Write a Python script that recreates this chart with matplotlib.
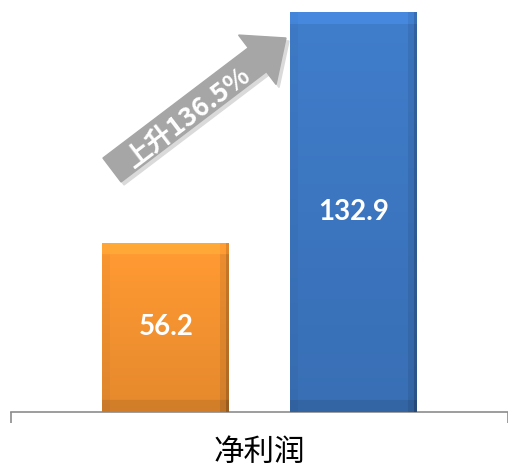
import numpy as np
import matplotlib
matplotlib.use('Agg')
import matplotlib.pyplot as plt
from matplotlib.patches import FancyArrow
from matplotlib.transforms import IdentityTransform
from matplotlib.colors import to_rgb

plt.rcParams['font.family'] = ['Noto Sans CJK SC', 'DejaVu Sans']

category = '净利润'
series_values = [56.2, 132.9]
value_labels = ['56.2', '132.9']
bar_colors = ['#F39230', '#3C76C0']
growth_label = '上升136.5%'

fig = plt.figure(figsize=(5.08, 4.68), dpi=100)
ax = fig.add_axes([11 / 508, 56 / 468, 497 / 508, 412 / 468])

width = 0.2555
offsets = [-0.1886, 0.1886]


def bevel_image(color, h=400, w=127):
    # vertical gradient plus soft bevelled edges
    base = np.array(to_rgb(color))
    yy = np.linspace(0, 1, h)[:, None]
    xx = np.linspace(0, 1, w)[None, :]
    shade = 1.06 - 0.12 * yy + 0 * xx
    top = 12.0 / (h * 1.0)
    shade = np.where(yy < top, shade + 0.10, shade)
    shade = np.where(xx > 1 - 0.07, shade - 0.08, shade)
    shade = np.where(xx > 1 - 0.02, shade - 0.15, shade)
    shade = np.where(xx < 0.06, shade - 0.03, shade)
    shade = np.where(yy > 1 - top, shade - 0.08, shade)
    img = np.clip(base[None, None, :] * shade[:, :, None], 0, 1)
    return img


for off, val, col, lab in zip(offsets, series_values, bar_colors, value_labels):
    bar = ax.bar(off, val, width=width, color=col, edgecolor='none', zorder=2)[0]
    im = ax.imshow(bevel_image(col, h=int(val * 3)),
                   extent=[off - width / 2, off + width / 2, 0, val],
                   aspect='auto', zorder=3, interpolation='bilinear')
    im.set_clip_path(bar)
    ax.text(off, val / 2, lab, ha='center', va='center', color='white',
            fontsize=20, fontweight='bold', family=['Lato', 'DejaVu Sans'], zorder=5)

ax.set_aspect('auto')
ax.set_xlim(-0.5, 0.5)
ax.set_ylim(0, 137.0)

for s in ['top', 'right', 'left']:
    ax.spines[s].set_visible(False)
ax.spines['bottom'].set_color('#8C8C8C')
ax.spines['bottom'].set_linewidth(1.2)
ax.set_yticks([])
ax.set_xticks([0])
ax.set_xticklabels([category], fontsize=22)
ax.tick_params(axis='x', which='major', length=0, pad=18)
ax.set_xticks([-0.5, 0.5], minor=True)
ax.tick_params(axis='x', which='minor', length=8, color='#8C8C8C', width=1.2)

# growth arrow in figure pixels
tail = (112, 468 - 170)
tip = (286, 468 - 38)
dx, dy = tip[0] - tail[0], tip[1] - tail[1]
shadow = FancyArrow(tail[0] + 3, tail[1] - 3, dx, dy, width=30, head_width=62,
                    head_length=36, length_includes_head=True,
                    transform=IdentityTransform(), color='#DADADA', zorder=5)
fig.patches.append(shadow)
arrow = FancyArrow(tail[0], tail[1], dx, dy, width=30, head_width=62,
                   head_length=36, length_includes_head=True,
                   transform=IdentityTransform(), color='#A6A6A6', zorder=6)
fig.patches.append(arrow)
angle = np.degrees(np.arctan2(dy, dx))
fig.text(189 / 508, 1 - 117 / 468, growth_label, rotation=angle, rotation_mode='anchor',
         ha='center', va='center', color='white', fontsize=19, fontweight='bold', zorder=7)

fig.savefig('out.png', dpi=100)
